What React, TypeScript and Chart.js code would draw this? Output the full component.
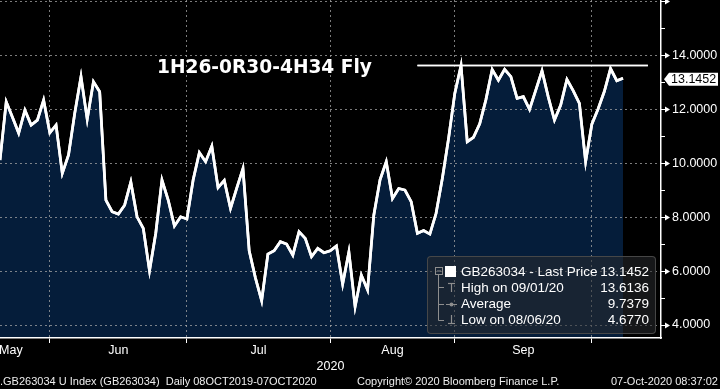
import React, { useEffect, useRef } from 'react';
import { Chart, registerables } from 'chart.js';

Chart.register(...registerables);

// ---- data (one point per trading day, 18 May 2020 .. 07 Oct 2020) ----
const values: number[] = [
  10.11, 12.27, 11.70, 11.11, 11.96, 11.41, 11.59, 12.33, 11.12, 11.41,
  9.62, 10.30, 11.85, 13.20, 11.62, 13.01, 12.64, 8.63, 8.20, 8.11,
  8.44, 9.30, 8.01, 7.58, 6.01, 7.40, 9.37, 8.63, 7.67, 8.01,
  7.93, 9.37, 10.39, 10.05, 10.63, 9.09, 9.36, 8.32, 9.07, 9.80,
  6.75, 5.75, 4.90, 6.63, 6.75, 7.09, 7.00, 6.59, 7.46, 7.21,
  6.53, 6.84, 6.68, 6.75, 6.93, 5.52, 6.71, 4.677, 5.85, 5.30,
  8.07, 9.38, 10.05, 8.69, 9.06, 9.00, 8.57, 7.40, 7.50, 7.37,
  8.14, 9.43, 10.91, 12.58, 13.6136, 10.79, 10.95, 11.45, 12.35, 13.47,
  13.07, 13.47, 13.20, 12.40, 12.46, 11.99, 12.70, 13.42, 12.45, 11.59,
  12.15, 13.10, 12.68, 12.21, 10.05, 11.44, 12.00, 12.65, 13.50, 13.05,
  13.1452,
];

// month boundaries (trading-day index of grid lines) and month labels
const monthBoundaryIdx = [8, 30, 53, 73, 95];
const monthLabels = ['May', 'Jun', 'Jul', 'Aug', 'Sep'];
const monthLabelIdx = [1.75, 19, 41.5, 63, 84];
const yearLabel = '2020';

const yTickValues = [4, 5, 6, 7, 8, 9, 10, 11, 12, 13, 14, 15, 16];
const yLabelValues = [4, 6, 8, 10, 12, 14];

const titleText = '1H26-0R30-4H34 Fly';
const legendLabels = ['GB263034 - Last Price', 'High on 09/01/20', 'Average', 'Low on 08/06/20'];
const legendValues = ['13.1452', '13.6136', '9.7379', '4.6770'];
const highValue = 13.6136;
const highLineIdx = [67, 104];

const footerLeft = '.GB263034 U Index (GB263034)  Daily 08OCT2019-07OCT2020';
const footerMid = 'Copyright\u00A9 2020 Bloomberg Finance L.P.';
const footerRight = '07-Oct-2020 08:37:02';

// ---- axis ranges ----
const X_MIN = 0;
const X_MAX = 106.1;
const Y_MIN = 3.52;
const Y_MAX = 16.04;

const FONT = '"Liberation Sans", Arial, sans-serif';
const GRID = 'rgba(165,165,165,0.75)';
const FILL = '#051d3a';

const decorPlugin = {
  id: 'decor',
  afterDraw(chart: any) {
    const { ctx, chartArea } = chart;
    const y = chart.scales.y;
    // re-stroke lines above the grid
    ctx.save();
    ctx.beginPath();
    ctx.rect(chartArea.left, chartArea.top, chartArea.right - chartArea.left, chartArea.bottom - chartArea.top);
    ctx.clip();
    chart.getDatasetMeta(0).dataset.draw(ctx, chartArea);
    chart.getDatasetMeta(1).dataset.draw(ctx, chartArea);
    ctx.restore();

    const x0 = chartArea.right;
    ctx.save();
    ctx.fillStyle = '#fff';
    ctx.strokeStyle = '#fff';
    ctx.lineWidth = 1;
    y.ticks.forEach((t: any) => {
      const py = Math.round(y.getPixelForValue(t.value)) + 0.5;
      if (t.value % 2 === 0) {
        ctx.beginPath();
        ctx.moveTo(x0, py);
        ctx.lineTo(x0 + 5, py);
        ctx.stroke();
        ctx.beginPath();
        ctx.moveTo(x0 + 4, py - 3);
        ctx.lineTo(x0 + 9, py);
        ctx.lineTo(x0 + 4, py + 3);
        ctx.closePath();
        ctx.fill();
      } else {
        ctx.beginPath();
        ctx.moveTo(x0, py);
        ctx.lineTo(x0 + 4, py);
        ctx.stroke();
      }
    });
    // last price tag
    const last = values[values.length - 1];
    const py = y.getPixelForValue(last) + 1;
    const h = 6.5;
    ctx.beginPath();
    ctx.moveTo(x0 + 3, py);
    ctx.lineTo(x0 + 8, py - h);
    ctx.lineTo(x0 + 57, py - h);
    ctx.lineTo(x0 + 57, py + h);
    ctx.lineTo(x0 + 8, py + h);
    ctx.closePath();
    ctx.fill();
    ctx.fillStyle = '#000';
    ctx.font = '12.5px ' + FONT;
    ctx.textBaseline = 'middle';
    ctx.textAlign = 'left';
    ctx.fillText(last.toFixed(4), x0 + 10, py + 0.5);
    ctx.restore();
  },
};

export default function App() {
  const ref = useRef<HTMLCanvasElement>(null);

  useEffect(() => {
    const canvas = ref.current;
    if (!canvas) return;
    const chart = new Chart(canvas, {
      type: 'line',
      data: {
        datasets: [
          {
            data: values.map((v, i) => ({ x: i, y: v })),
            borderColor: '#ffffff',
            borderWidth: 2.7,
            backgroundColor: FILL,
            fill: 'start',
            pointRadius: 0,
            tension: 0,
          },
          {
            data: highLineIdx.map((i) => ({ x: i, y: highValue })),
            borderColor: '#ffffff',
            borderWidth: 1.3,
            fill: false,
            pointRadius: 0,
          },
        ],
      },
      options: {
        animation: false,
        responsive: false,
        maintainAspectRatio: false,
        layout: { padding: 0 },
        plugins: { legend: { display: false }, tooltip: { enabled: false }, title: { display: false } },
        scales: {
          x: {
            type: 'linear',
            min: X_MIN,
            max: X_MAX,
            position: 'bottom',
            afterBuildTicks: (s: any) => {
              s.ticks = [...monthBoundaryIdx, ...monthLabelIdx]
                .sort((a, b) => a - b)
                .map((v) => ({ value: v }));
            },
            afterFit: (s: any) => {
              s.height = 51;
              s.paddingLeft = 0;
              s.paddingRight = 0;
            },
            grid: {
              z: 1,
              color: (c: any) => (c.tick && monthBoundaryIdx.includes(c.tick.value) ? GRID : 'rgba(0,0,0,0)'),
              tickColor: (c: any) => (c.tick && monthBoundaryIdx.includes(c.tick.value) ? '#ffffff' : 'rgba(0,0,0,0)'),
              drawTicks: true,
              tickLength: 5,
              lineWidth: 1,
            },
            border: { display: true, color: '#ffffff', width: 1.5, dash: [2, 3], z: 2 },
            ticks: {
              z: 2,
              color: '#ffffff',
              autoSkip: false,
              maxRotation: 0,
              padding: 0,
              font: { family: FONT, size: 12.5 },
              callback: (v: any) => {
                const k = monthLabelIdx.indexOf(Number(v));
                return k >= 0 ? monthLabels[k] : '';
              },
            },
            title: {
              display: true,
              text: yearLabel,
              color: '#ffffff',
              font: { family: FONT, size: 12.5 },
              padding: { top: 0, bottom: 14.5 },
            },
          },
          y: {
            type: 'linear',
            position: 'right',
            min: Y_MIN,
            max: Y_MAX,
            afterBuildTicks: (s: any) => {
              s.ticks = yTickValues.map((v) => ({ value: v }));
            },
            afterFit: (s: any) => {
              s.width = 59;
              s.paddingTop = 0;
              s.paddingBottom = 0;
            },
            grid: {
              z: 1,
              color: (c: any) => (c.tick && c.tick.value % 2 === 0 ? GRID : 'rgba(0,0,0,0)'),
              drawTicks: false,
              lineWidth: 1,
            },
            border: { display: true, color: '#ffffff', width: 1.5, dash: [2, 3], z: 2 },
            ticks: {
              z: 2,
              color: '#ffffff',
              autoSkip: false,
              padding: 11,
              font: { family: FONT, size: 12.5 },
              callback: (v: any) => (yLabelValues.includes(Number(v)) ? Number(v).toFixed(4) : ''),
            },
          },
        },
      },
      plugins: [decorPlugin],
    } as any);
    return () => chart.destroy();
  }, []);

  const rowTop = (i: number) => 7 + 16 * i;
  const iconColor = '#8e8e8e';

  return (
    <div
      style={{
        position: 'relative',
        width: 720,
        height: 389,
        background: '#000',
        overflow: 'hidden',
        fontFamily: FONT,
        color: '#fff',
      }}
    >
      <style>{'body{margin:0;background:#000;}'}</style>
      <canvas ref={ref} width={720} height={389} style={{ position: 'absolute', left: 0, top: 0, width: 720, height: 389 }} />

      <div
        style={{
          position: 'absolute',
          left: 157,
          top: 57,
          fontFamily: '"DejaVu Sans", Verdana, sans-serif',
          fontWeight: 'bold',
          fontSize: 18.6,
          lineHeight: '19px',
          color: '#ffffff',
          whiteSpace: 'pre',
        }}
      >
        {titleText}
      </div>

      <div
        style={{
          position: 'absolute',
          left: 427,
          top: 256,
          width: 229,
          height: 78,
          boxSizing: 'border-box',
          background: 'rgba(40,42,46,0.55)',
          border: '1px solid rgba(75,75,75,0.9)',
          borderRadius: 4,
        }}
      >
        <svg width={227} height={76} style={{ position: 'absolute', left: 0, top: 0 }}>
          <rect x={7.5} y={10.5} width={7} height={7} fill="none" stroke={iconColor} strokeWidth={1} />
          <line x1={9} y1={14} x2={13} y2={14} stroke={iconColor} strokeWidth={1} />
          <rect x={17} y={9} width={11} height={11} fill="#ffffff" />
          <line x1={10.5} y1={18} x2={10.5} y2={63.5} stroke={iconColor} strokeWidth={1} />
          <line x1={10.5} y1={30.5} x2={16} y2={30.5} stroke={iconColor} strokeWidth={1} />
          <line x1={10.5} y1={47.5} x2={16} y2={47.5} stroke={iconColor} strokeWidth={1} />
          <line x1={10.5} y1={63.5} x2={16} y2={63.5} stroke={iconColor} strokeWidth={1} />
          <line x1={20} y1={26.5} x2={27} y2={26.5} stroke={iconColor} strokeWidth={1.2} />
          <line x1={23.5} y1={26.5} x2={23.5} y2={35} stroke={iconColor} strokeWidth={1.2} />
          <line x1={18} y1={47.5} x2={29} y2={47.5} stroke={iconColor} strokeWidth={1} />
          <circle cx={23.5} cy={47.5} r={2} fill={iconColor} />
          <line x1={23.5} y1={58} x2={23.5} y2={66.5} stroke={iconColor} strokeWidth={1.2} />
          <line x1={20} y1={66.5} x2={27} y2={66.5} stroke={iconColor} strokeWidth={1.2} />
        </svg>
        {legendLabels.map((lab, i) => (
          <div
            key={'l' + i}
            style={{
              position: 'absolute',
              left: 33,
              top: rowTop(i),
              fontSize: 13.5,
              lineHeight: '16px',
              whiteSpace: 'pre',
              color: '#ffffff',
            }}
          >
            {lab}
          </div>
        ))}
        {legendValues.map((val, i) => (
          <div
            key={'v' + i}
            style={{
              position: 'absolute',
              right: 6,
              top: rowTop(i),
              fontSize: 13.5,
              lineHeight: '16px',
              whiteSpace: 'pre',
              textAlign: 'right',
              color: '#ffffff',
            }}
          >
            {val}
          </div>
        ))}
      </div>

      <div style={{ position: 'absolute', left: 0, top: 375, fontSize: 11, lineHeight: '13px', whiteSpace: 'pre', color: '#eeeeee' }}>
        {footerLeft}
      </div>
      <div style={{ position: 'absolute', left: 357, top: 375, fontSize: 11, lineHeight: '13px', whiteSpace: 'pre', color: '#eeeeee' }}>
        {footerMid}
      </div>
      <div style={{ position: 'absolute', right: 2, top: 375, fontSize: 11, lineHeight: '13px', whiteSpace: 'pre', color: '#eeeeee' }}>
        {footerRight}
      </div>
    </div>
  );
}
